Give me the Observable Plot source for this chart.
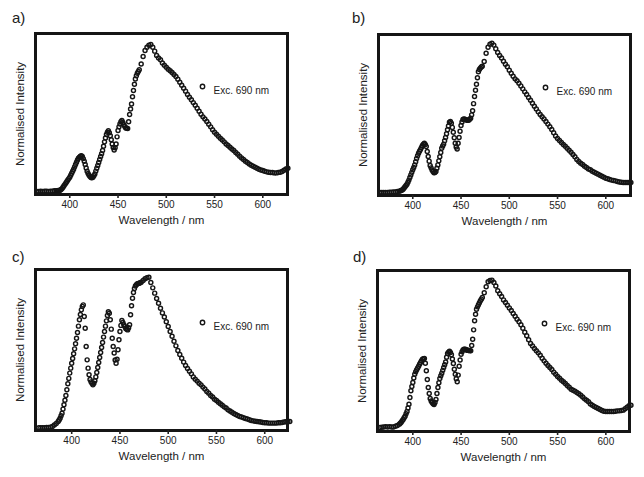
<!DOCTYPE html>
<html>
<head>
<meta charset="utf-8">
<script src="https://cdn.jsdelivr.net/npm/d3@7"></script>
<script src="https://cdn.jsdelivr.net/npm/@observablehq/plot@0.6"></script>
<style>
  body { margin: 0; background: #fff; }
  #root { position: relative; width: 644px; height: 477px; overflow: hidden; background: #fff;
          font-family: "Liberation Sans", Arial, Helvetica, sans-serif; }
  .panel-label { position: absolute; font-size: 15px; line-height: 15px; color: #222; }
  .plot { position: absolute; }
</style>
</head>
<body>
<div id="root"></div>
<script>
// ---- data ----
const wavelength = [
  366,368,370,372,374,376,378,380,382,384,386,
  387,388,389,390,391,392,393,394,395,396,
  397,398,399,400,401,402,403,404,405,406,
  407,408,409,410,411,412,413,414,415,416,
  417,418,419,420,421,422,423,424,425,426,
  427,428,429,430,431,432,433,434,435,436,
  437,438,439,440,441,442,443,444,445,446,
  447,448,449,450,451,452,453,454,455,456,
  457,458,459,460,461,462,463,464,465,466,
  467,468,469,470,471,
  472,474,476,478,480,482,484,486,488,490,
  492,494,496,498,500,502,504,506,508,510,
  512,514,516,518,520,522,524,526,528,530,
  532,534,536,538,540,542,544,546,548,550,
  552,554,556,558,560,562,564,566,568,570,
  572,574,576,578,580,582,584,586,588,590,
  592,594,596,598,600,602,604,606,608,610,
  612,614,616,618,620,622,624,626
];

const intensityA = [
  0.000,0.000,0.002,0.000,0.002,0.002,0.000,0.002,0.002,0.005,0.005,
  0.006,0.007,0.008,0.009,0.014,0.020,0.029,0.039,0.049,0.059,
  0.069,0.079,0.088,0.098,0.111,0.125,0.138,0.152,0.168,0.184,
  0.200,0.215,0.226,0.234,0.240,0.243,0.238,0.224,0.206,0.184,
  0.160,0.138,0.123,0.111,0.102,0.095,0.094,0.098,0.108,0.120,
  0.139,0.159,0.178,0.197,0.218,0.238,0.258,0.279,0.308,0.338,
  0.364,0.388,0.404,0.413,0.400,0.379,0.352,0.324,0.300,0.283,
  0.298,0.324,0.372,0.415,0.440,0.460,0.475,0.483,0.470,0.454,
  0.442,0.433,0.430,0.429,0.475,0.524,0.562,0.596,0.645,0.687,
  0.730,0.766,0.788,0.805,0.817,
  0.828,0.868,0.918,0.959,0.982,0.995,1.000,0.982,0.955,0.925,
  0.909,0.896,0.875,0.859,0.846,0.832,0.821,0.810,0.796,0.782,
  0.764,0.744,0.723,0.703,0.683,0.660,0.642,0.624,0.605,0.587,
  0.567,0.546,0.526,0.508,0.494,0.476,0.458,0.440,0.420,0.404,
  0.390,0.376,0.363,0.351,0.338,0.324,0.313,0.302,0.290,0.279,
  0.265,0.254,0.240,0.229,0.218,0.206,0.197,0.188,0.179,0.172,
  0.166,0.159,0.152,0.147,0.143,0.138,0.134,0.132,0.129,0.129,
  0.127,0.127,0.129,0.132,0.136,0.145,0.154,0.159
];

const intensityB = [
  0.000,0.000,0.000,0.000,0.000,0.002,0.002,0.004,0.004,0.007,0.009,
  0.011,0.013,0.017,0.022,0.030,0.038,0.047,0.056,0.069,0.083,
  0.100,0.118,0.135,0.152,0.168,0.185,0.206,0.228,0.246,0.263,
  0.276,0.288,0.302,0.315,0.324,0.330,0.322,0.308,0.275,0.241,
  0.210,0.181,0.165,0.150,0.140,0.132,0.134,0.141,0.162,0.185,
  0.212,0.239,0.268,0.297,0.312,0.324,0.346,0.368,0.394,0.420,
  0.446,0.471,0.475,0.464,0.436,0.404,0.367,0.330,0.305,0.292,
  0.330,0.368,0.410,0.449,0.472,0.489,0.492,0.491,0.488,0.484,
  0.484,0.484,0.490,0.498,0.520,0.547,0.595,0.643,0.685,0.725,
  0.768,0.808,0.824,0.833,0.840,
  0.846,0.877,0.933,0.973,0.993,1.000,0.987,0.962,0.938,0.917,
  0.900,0.879,0.859,0.842,0.819,0.799,0.779,0.761,0.748,0.732,
  0.714,0.694,0.674,0.656,0.636,0.618,0.598,0.578,0.560,0.540,
  0.522,0.507,0.493,0.475,0.458,0.440,0.422,0.400,0.379,0.362,
  0.348,0.335,0.321,0.310,0.297,0.283,0.270,0.254,0.239,0.221,
  0.208,0.196,0.188,0.176,0.167,0.158,0.152,0.143,0.136,0.129,
  0.123,0.116,0.109,0.103,0.096,0.092,0.087,0.083,0.080,0.078,
  0.074,0.071,0.069,0.067,0.067,0.067,0.067,0.067
];

const intensityC = [
  0.000,0.000,0.000,0.000,0.002,0.002,0.004,0.009,0.018,0.029,0.042,
  0.052,0.064,0.080,0.097,0.124,0.153,0.183,0.215,0.253,0.292,
  0.328,0.363,0.396,0.429,0.460,0.491,0.524,0.558,0.595,0.633,
  0.675,0.717,0.752,0.783,0.806,0.816,0.739,0.661,0.540,0.451,
  0.396,0.352,0.320,0.305,0.295,0.285,0.296,0.312,0.338,0.367,
  0.400,0.434,0.467,0.500,0.533,0.566,0.602,0.639,0.675,0.710,
  0.745,0.770,0.760,0.717,0.655,0.595,0.540,0.496,0.450,0.429,
  0.455,0.518,0.585,0.639,0.680,0.712,0.700,0.684,0.672,0.659,
  0.655,0.650,0.665,0.684,0.750,0.810,0.860,0.898,0.925,0.942,
  0.950,0.956,0.958,0.960,0.963,
  0.967,0.978,0.989,0.996,1.000,0.965,0.929,0.894,0.858,0.827,
  0.794,0.763,0.735,0.704,0.673,0.639,0.608,0.575,0.544,0.513,
  0.487,0.462,0.436,0.414,0.394,0.376,0.358,0.338,0.323,0.310,
  0.296,0.285,0.270,0.257,0.241,0.230,0.215,0.204,0.190,0.181,
  0.170,0.159,0.150,0.139,0.131,0.119,0.111,0.104,0.095,0.088,
  0.082,0.075,0.071,0.066,0.062,0.058,0.053,0.049,0.046,0.044,
  0.042,0.040,0.038,0.035,0.033,0.033,0.031,0.031,0.031,0.031,
  0.031,0.033,0.033,0.035,0.038,0.040,0.042,0.042
];

const intensityD = [
  0.007,0.009,0.011,0.013,0.011,0.013,0.011,0.011,0.016,0.020,0.029,
  0.036,0.043,0.052,0.061,0.072,0.083,0.099,0.115,0.139,0.164,
  0.209,0.254,0.283,0.310,0.340,0.366,0.382,0.396,0.408,0.420,
  0.433,0.445,0.457,0.467,0.471,0.472,0.440,0.389,0.330,0.276,
  0.236,0.202,0.186,0.175,0.167,0.162,0.175,0.196,0.236,0.276,
  0.309,0.337,0.356,0.373,0.392,0.411,0.430,0.449,0.480,0.506,
  0.515,0.521,0.512,0.497,0.468,0.438,0.400,0.366,0.335,0.315,
  0.360,0.420,0.462,0.501,0.518,0.530,0.534,0.535,0.532,0.528,
  0.527,0.526,0.525,0.524,0.560,0.602,0.665,0.726,0.770,0.804,
  0.820,0.834,0.848,0.861,0.872,
  0.883,0.915,0.955,0.989,0.998,1.000,0.984,0.960,0.928,0.908,
  0.890,0.867,0.849,0.831,0.813,0.796,0.775,0.757,0.737,0.719,
  0.699,0.676,0.649,0.625,0.598,0.573,0.557,0.539,0.524,0.510,
  0.494,0.474,0.456,0.440,0.425,0.411,0.398,0.380,0.366,0.351,
  0.339,0.326,0.315,0.303,0.290,0.279,0.265,0.258,0.252,0.243,
  0.234,0.225,0.213,0.200,0.191,0.180,0.166,0.157,0.148,0.142,
  0.135,0.128,0.121,0.117,0.115,0.115,0.115,0.115,0.115,0.117,
  0.119,0.119,0.121,0.124,0.133,0.144,0.153,0.157
];

const panelLabels = ["a)", "b)", "c)", "d)"];
const xTicks = [400, 450, 500, 550, 600];
const legendLabel = "Exc. 690 nm";
const xLabel = "Wavelength / nm";
const yLabel = "Normalised Intensity";

// ---- layout (separate from data) ----
const layout = [
  { values: intensityA, plotLeft: 35,  plotTop: 33,  xMin: 364.5, yDomain: [-0.020, 1.075], labelLeft: 12,  labelTop: 10 },
  { values: intensityB, plotLeft: 378, plotTop: 34,  xMin: 364.5, yDomain: [-0.020, 1.058], labelLeft: 352, labelTop: 10 },
  { values: intensityC, plotLeft: 35,  plotTop: 269, xMin: 362.5, yDomain: [-0.018, 1.051], labelLeft: 12,  labelTop: 249 },
  { values: intensityD, plotLeft: 377, plotTop: 270, xMin: 363.4, yDomain: [-0.020, 1.065], labelLeft: 353, labelTop: 249 }
];

const ML = 32, MR = 16, MT = 8, MB = 45, PW = 252, PH = 161;
const ink = "#151515";
const root = document.getElementById("root");

layout.forEach((p, k) => {
  const rows = wavelength.map((w, i) => ({ w, v: p.values[i] }));
  const chart = Plot.plot({
    width: ML + PW + MR,
    height: MT + PH + MB,
    marginLeft: ML, marginRight: MR, marginTop: MT, marginBottom: MB,
    x: { domain: [p.xMin, p.xMin + 261.1] },
    y: { domain: p.yDomain, axis: null },
    style: { fontFamily: '"Liberation Sans", Arial, Helvetica, sans-serif', fontSize: "10px", color: "#222", background: "transparent", overflow: "visible" },
    marks: [
      Plot.dot(rows, { x: "w", y: "v", r: 2.0, stroke: ink, strokeWidth: 1.45, fill: "none" }),
      Plot.frame({ stroke: ink, strokeWidth: 3 }),
      Plot.axisX({ ticks: xTicks, tickSize: 4, tickPadding: 2, strokeWidth: 1.6, fontSize: 10, label: null }),
      Plot.text([xLabel], { text: d => d, frameAnchor: "bottom", dy: 29, fontSize: 11.5, fill: "#222" }),
      Plot.text([yLabel], { text: d => d, frameAnchor: "left", textAnchor: "middle", rotate: -90, dx: -15, fontSize: 11.5, fill: "#222" }),
      Plot.dot([legendLabel], { frameAnchor: "top-left", dx: 167, dy: 53, r: 2.2, stroke: ink, strokeWidth: 1.4, fill: "none" }),
      Plot.text([legendLabel], { text: d => d, frameAnchor: "top-left", dx: 178, dy: 53, textAnchor: "start", fontSize: 10, fill: "#222" })
    ]
  });
  chart.classList.add("plot");
  chart.style.left = (p.plotLeft - ML) + "px";
  chart.style.top = (p.plotTop - MT) + "px";
  root.appendChild(chart);

  const lab = document.createElement("div");
  lab.className = "panel-label";
  lab.textContent = panelLabels[k];
  lab.style.left = p.labelLeft + "px";
  lab.style.top = p.labelTop + "px";
  root.appendChild(lab);
});
</script>
</body>
</html>
